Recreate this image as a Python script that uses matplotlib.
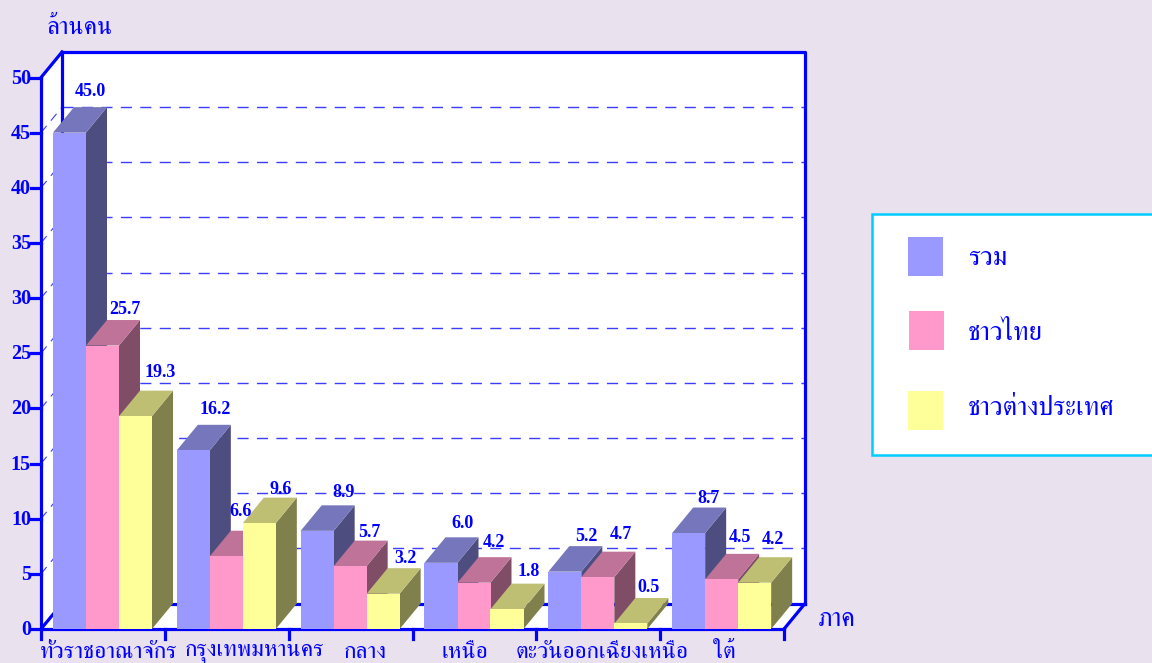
import matplotlib
matplotlib.use("Agg")
import matplotlib.pyplot as plt
from matplotlib import font_manager
from matplotlib.ft2font import FT2Font
from matplotlib.patches import Polygon, Rectangle
from matplotlib.lines import Line2D

categories = ["ทั่วราชอาณาจักร", "กรุงเทพมหานคร", "กลาง", "เหนือ", "ตะวันออกเฉียงเหนือ", "ใต้"]
series_names = ["รวม", "ชาวไทย", "ชาวต่างประเทศ"]
total = [45.0, 16.2, 8.9, 6.0, 5.2, 8.7]
thai = [25.7, 6.6, 5.7, 4.2, 4.7, 4.5]
foreign = [19.3, 9.6, 3.2, 1.8, 0.5, 4.2]
y_ticks = [0, 5, 10, 15, 20, 25, 30, 35, 40, 45, 50]

W, H = 1152, 663
BG = "#E9E1EE"
BLUE = "#0000FF"
front = ["#9999FF", "#FF99CC", "#FFFF99"]
top = ["#7676BC", "#BF7399", "#BFBF73"]
side = ["#4D4D80", "#804D66", "#80804D"]


def find_thai_font():
    # ใช้ฟอนต์ที่มีอักษรไทย เลือกแบบมีเชิงก่อน
    names = []
    seen = set()
    for f in font_manager.fontManager.ttflist:
        if f.fname in seen:
            continue
        seen.add(f.fname)
        try:
            if 0x0E01 in FT2Font(f.fname).get_charmap():
                names.append(f.name)
        except Exception:
            pass
    for key in ["Serif", "Norasi", "Kinnari", "Looped"]:
        for n in names:
            if key in n:
                return n
    return names[0] if names else None


thai_font = find_thai_font()
text_family = [thai_font, "Liberation Serif"] if thai_font else ["Liberation Serif", "DejaVu Sans"]

fig = plt.figure(figsize=(W / 100, H / 100), dpi=100, facecolor=BG)

# axes = ระนาบหน้าของกราฟ 3 มิติ
L, R, B, T = 41, 784, 629, 77.5
ax = fig.add_axes([L / W, 1 - B / H, (R - L) / W, (B - T) / H])
ax.set_xlim(0, len(categories))
ax.set_ylim(0, y_ticks[-1])
ax.axis("off")

px_x = len(categories) / (R - L)
px_y = y_ticks[-1] / (B - T)
DX, DY = 21 * px_x, 25.5 * px_y
AXW = 2.3
ymax = y_ticks[-1]
ncat = len(categories)


def poly(pts, color, z, lw=0.0, edge="none"):
    ax.add_patch(Polygon(pts, closed=True, fc=color, ec=edge, lw=lw, zorder=z, clip_on=False))


def line(xs, ys, lw=AXW, z=3, **kw):
    ax.add_line(Line2D(xs, ys, color=kw.pop("color", BLUE), lw=lw, zorder=z, clip_on=False,
                       solid_capstyle="projecting", **kw))


# ผนังหลัง ผนังข้าง และพื้น
poly([(DX, DY), (ncat + DX, DY), (ncat + DX, ymax + DY), (DX, ymax + DY)], "white", 1)
poly([(0, 0), (DX, DY), (DX, ymax + DY), (0, ymax)], "white", 1)
poly([(0, 0), (ncat, 0), (ncat + DX, DY), (DX, DY)], "white", 1)

# เส้นกริด
for v in y_ticks[1:-1]:
    line([DX, ncat + DX], [v + DY, v + DY], lw=1.0, z=2, color="#3C3CFF", linestyle=(0, (8, 6)))
    line([0, DX], [v, v + DY], lw=0.8, z=2, color="#3C3CFF", linestyle=(0, (8, 6)))

# กรอบแกน
line([DX, ncat + DX, ncat + DX], [ymax + DY, ymax + DY, DY])
line([DX, DX], [DY, ymax + DY])
line([DX, ncat + DX], [DY, DY])
line([0, DX], [ymax, ymax + DY])
line([0, DX], [0, DY], z=3)
line([ncat, ncat + DX], [0, DY])
line([0, 0], [0, ymax], z=6)
line([0, ncat], [0, 0], z=6)

for v in y_ticks:
    line([-10 * px_x, 0], [v, v], z=6)
    ax.text(-10 * px_x, v - 1 * px_y, str(v), ha="right", va="center", fontsize=14.5, fontweight="bold",
            color=BLUE, family="Liberation Serif", clip_on=False, zorder=7)
for i in range(ncat + 1):
    line([i, i], [0, -10 * px_y], z=6)

# แท่ง
bar_w = 33 * px_x
start = 12 * px_x
groups = [total, thai, foreign]
z = 10
label_dx = [[0, 1, 4], [1, -7, 0], [5, -2, 1], [1, -1, 1], [1, 2, -3], [-1, -3, -3]]
label_up = [[16, 11, 18], [15, 19, 8], [13, 8, 10], [14, 15, 12], [10, 17, 10], [9, 16, 18]]
for i in range(ncat):
    for j, vals in enumerate(groups):
        x0 = i + start + j * bar_w
        x1 = x0 + bar_w
        v = vals[i]
        poly([(x1, 0), (x1 + DX, DY), (x1 + DX, v + DY), (x1, v)], side[j], z)
        poly([(x0, v), (x1, v), (x1 + DX, v + DY), (x0 + DX, v + DY)], top[j], z)
        poly([(x0, 0), (x1, 0), (x1, v), (x0, v)], front[j], z + 0.5)
        ax.text((x0 + x1) / 2 + DX + label_dx[i][j] * px_x, v + DY + label_up[i][j] * px_y,
                f"{v:.1f}", ha="center", va="center", fontsize=13, fontweight="bold",
                color=BLUE, family="Liberation Serif", clip_on=False, zorder=50)
        z += 1

# ป้ายแกน x
cat_dx = [5.5, 28, 15, -10, 4, 2]
for i, name in enumerate(categories):
    ax.text(i + 0.5 + cat_dx[i] * px_x, -23 * px_y, name, ha="center", va="center", fontsize=16.8,
            color=BLUE, family=text_family, clip_on=False, zorder=7)


def fig_text(x, y, s, size=18.2, ha="left"):
    fig.text(x / W, 1 - y / H, s, ha=ha, va="center", fontsize=size, color=BLUE, family=text_family)


fig_text(47, 28, "ล้านคน")
fig_text(818, 620, "ภาค", size=18.5)

# คำอธิบายสัญลักษณ์
fig.add_artist(Rectangle((872 / W, 1 - 455 / H), 300 / W, 241 / H, fc="white", ec="#00CCFF", lw=1.8,
                         transform=fig.transFigure))
swatch_xy = [(908, 276), (909, 350), (908, 430)]
legend_y = [258, 333, 408]
for (sx, sy), c, name, ly in zip(swatch_xy, front, series_names, legend_y):
    fig.add_artist(Rectangle((sx / W, 1 - sy / H), 35 / W, 39 / H, fc=c, ec="none", transform=fig.transFigure))
    fig_text(968, ly, name, size=19.3)

fig.savefig("out.png", dpi=100, facecolor=BG)
